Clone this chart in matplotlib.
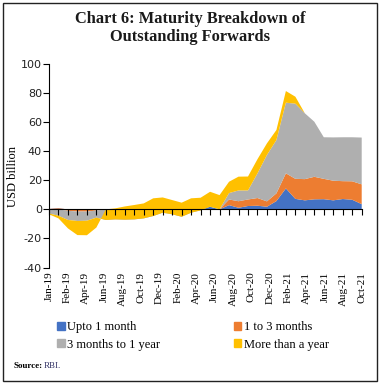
import matplotlib
matplotlib.use("Agg")
import matplotlib.pyplot as plt
from matplotlib.patches import Patch, Rectangle
import numpy as np
import pandas as pd

plt.rcParams["axes.unicode_minus"] = False

# monthly, Jan-19 .. Oct-21
months = list(pd.date_range("2019-01-01", periods=34, freq="MS").strftime("%b-%y"))
tick_labels = ["Jan-19", "Feb-19", "Apr-19", "Jun-19", "Aug-19", "Oct-19", "Dec-19",
               "Feb-20", "Apr-20", "Jun-20", "Aug-20", "Oct-20", "Dec-20",
               "Feb-21", "Apr-21", "Jun-21", "Aug-21", "Oct-21"]

# USD billion
upto_1m = [0.3, 0.7, 0.0, 0.0, 0.0, 0.0, 0.0, 0.0, 0.0, 0.0, 0.0, 0.0, 0.0, 0.0, 0.0, 0.0, 0.0,
           1.8, 0.0, 2.9, 1.1, 2.3, 2.5, 1.8, 5.7, 14.4, 7.2, 6.2, 6.9, 7.0, 6.2, 7.1, 6.6, 3.6]
m1_to_3 = [-0.3, -0.7, -1.0, -1.5, -1.5, -0.8, 0.0, 0.0, 0.0, 0.0, 0.0, 0.0, 0.0, 0.0, 0.0, 0.0, 0.0,
           0.0, 0.0, 3.9, 4.5, 4.5, 5.3, 3.7, 5.3, 10.4, 13.8, 14.6, 15.5, 14.0, 13.5, 12.3, 12.7, 13.6]
m3_to_1y = [-2.8, -4.4, -6.3, -6.5, -6.3, -4.9, -7.3, -6.9, -7.1, -6.9, -6.2, -4.6, -2.3, -3.4, -5.1, -2.3, -0.7,
            0.0, 0.0, 4.4, 7.4, 6.2, 16.9, 31.9, 36.7, 48.6, 51.7, 45.3, 37.9, 28.6, 29.8, 30.2, 30.3, 32.2]
over_1y = [-0.6, -1.8, -5.8, -9.7, -10.0, -6.8, 7.3, 7.6, 9.1, 9.9, 10.3, 12.2, 10.5, 9.8, 9.7, 9.9, 8.7,
           10.3, 9.8, 7.8, 9.5, 9.6, 9.8, 8.0, 6.9, 8.0, 4.8, 0.0, 0.0, 0.0, 0.0, 0.0, 0.0, 0.0]

names = ["Upto 1 month", "1 to 3 months", "3 months to 1 year", "More than a year"]
colors = ["#4472C4", "#ED7D31", "#AFAFAF", "#FFC000"]

serif = "Liberation Serif"

fig = plt.figure(figsize=(3.8, 3.84), dpi=100)
ax = fig.add_axes([49/380, 1-267.5/384, (361.7-49)/380, (267.5-64)/384])

x = np.arange(len(months))
ax.stackplot(x, upto_1m, m1_to_3, m3_to_1y, over_1y, colors=colors, linewidth=0)

ax.set_xlim(0, len(months)-1)
ax.set_ylim(-40, 100)
ax.set_yticks(range(-40, 101, 20))
ax.tick_params(axis="y", labelsize=8, length=4, width=0.8, pad=1)
for t in ax.get_yticklabels():
    t.set_family("DejaVu Sans")
    t.set_color("#222222")

ax.spines["top"].set_visible(False)
ax.spines["right"].set_visible(False)
ax.spines["bottom"].set_position(("data", 0))
ax.spines["left"].set_linewidth(0.8)
ax.spines["bottom"].set_linewidth(0.8)
ax.set_xticks(x)
ax.set_xticklabels([])
ax.tick_params(axis="x", length=4, width=0.8)

# month labels along the bottom
sec = ax.secondary_xaxis("bottom")
sec.spines["bottom"].set_visible(False)
sec.set_xticks(np.linspace(0, len(months)-1, len(tick_labels)))
sec.set_xticklabels(tick_labels, rotation=90, fontsize=8, family=serif)
sec.tick_params(length=0, pad=3)

ax.set_ylabel("USD billion", family=serif, fontsize=9)
ax.yaxis.set_label_coords(-0.095, 0.445)

fig.text(0.5, 1-28/384, "Chart 6: Maturity Breakdown of\nOutstanding Forwards", ha="center", va="center",
         family=serif, fontweight="bold", fontsize=11.8, linespacing=1.1, color="#1a1a1a")

handles = [Patch(color=colors[i]) for i in [0, 2, 1, 3]]
labels = [names[i] for i in [0, 2, 1, 3]]
fig.legend(handles, labels, ncol=2, loc="upper left", bbox_to_anchor=(52/380, 1-316/384),
           frameon=False, prop={"family": serif, "size": 9}, handlelength=0.6, handleheight=0.6,
           handletextpad=0.2, columnspacing=5.9, labelspacing=0.45, borderaxespad=0)

fig.text(14/380, 1-366/384, "Source:", family=serif, fontweight="bold", fontsize=6.5, va="center")
fig.text(44/380, 1-366/384, "RBI.", family=serif, fontsize=6.5, va="center", color="#333366")

fig.patches.append(Rectangle((3/380, 3/384), 374/380, 378/384, transform=fig.transFigure,
                             fill=False, edgecolor="#222222", linewidth=1))

fig.savefig("out.png", dpi=100)
